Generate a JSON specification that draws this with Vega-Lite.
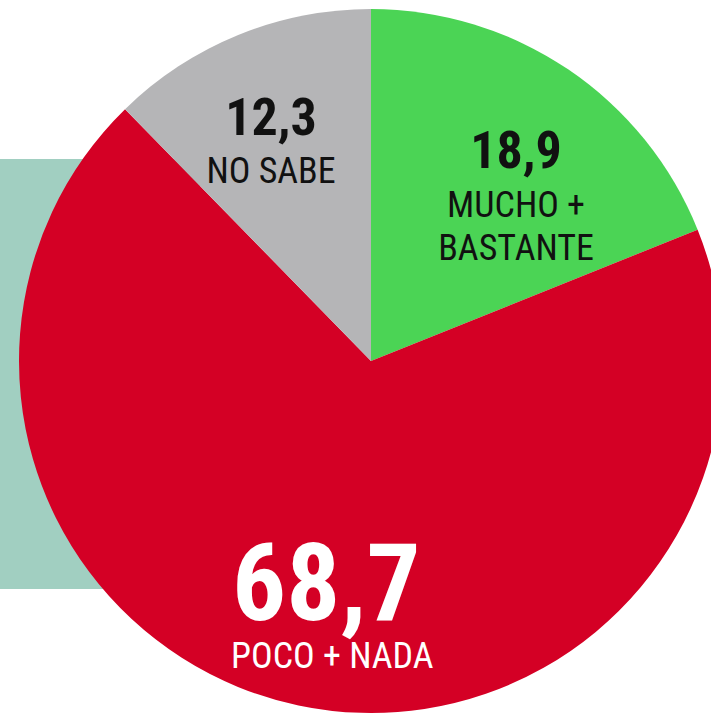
{
  "$schema": "https://vega.github.io/schema/vega-lite/v6.json",
  "width": 742,
  "height": 722,
  "padding": 0,
  "autosize": {"type": "none"},
  "background": "white",
  "config": {"view": {"stroke": null}, "text": {"font": "Roboto Condensed, Noto Sans Condensed, Open Sans Condensed, Liberation Sans Narrow, DejaVu Sans Condensed, sans-serif"}},
  "data": {
    "values": [
      {"cat": "MUCHO + BASTANTE", "label": "18,9", "valor": 18.9, "orden": 1},
      {"cat": "POCO + NADA", "label": "68,7", "valor": 68.7, "orden": 2},
      {"cat": "NO SABE", "label": "12,3", "valor": 12.3, "orden": 3}
    ]
  },
  "encoding": {
    "theta": {"field": "valor", "type": "quantitative", "stack": true},
    "order": {"field": "orden", "type": "quantitative"}
  },
  "layer": [
    {
      "mark": {"type": "rect", "color": "#a1cfc1"},
      "encoding": {
        "theta": null,
        "order": null,
        "x": {"value": 0},
        "x2": {"value": 200},
        "y": {"value": 159},
        "y2": {"value": 589}
      }
    },
    {
      "mark": {"type": "arc", "radius": 352, "strokeWidth": 0},
      "encoding": {
        "color": {
          "field": "cat",
          "type": "nominal",
          "scale": {
            "domain": ["MUCHO + BASTANTE", "POCO + NADA", "NO SABE"],
            "range": ["#4bd455", "#d40025", "#b5b5b7"]
          },
          "legend": null
        }
      }
    },
    {
      "mark": {"type": "text", "radius": 265, "dy": 19, "fontWeight": "bold", "fontSize": 52, "baseline": "alphabetic", "align": "center", "color": "#111111"},
      "encoding": {"text": {"condition": {"test": "datum.cat === 'NO SABE'", "field": "label"}, "value": ""}}
    },
    {
      "mark": {"type": "text", "radius": 265, "dy": 67, "fontSize": 36, "baseline": "alphabetic", "align": "center", "color": "#111111"},
      "encoding": {"text": {"condition": {"test": "datum.cat === 'NO SABE'", "field": "cat"}, "value": ""}}
    },
    {
      "mark": {"type": "text", "radius": 259, "dy": 22, "fontWeight": "bold", "fontSize": 52, "baseline": "alphabetic", "align": "center", "color": "#111111"},
      "encoding": {"text": {"condition": {"test": "datum.cat === 'MUCHO + BASTANTE'", "field": "label"}, "value": ""}}
    },
    {
      "mark": {"type": "text", "radius": 259, "dy": 71, "lineHeight": 43, "lineBreak": "|", "fontSize": 36, "baseline": "alphabetic", "align": "center", "color": "#111111"},
      "encoding": {"text": {"condition": {"test": "datum.cat === 'MUCHO + BASTANTE'", "value": "MUCHO +|BASTANTE"}, "value": ""}}
    },
    {
      "mark": {"type": "text", "radius": 217, "dy": 47, "fontWeight": "bold", "fontSize": 107, "baseline": "alphabetic", "align": "center", "color": "#ffffff"},
      "encoding": {"text": {"condition": {"test": "datum.cat === 'POCO + NADA'", "field": "label"}, "value": ""}}
    },
    {
      "mark": {"type": "text", "radius": 217, "dy": 95, "dx": 6, "fontSize": 36, "baseline": "alphabetic", "align": "center", "color": "#ffffff"},
      "encoding": {"text": {"condition": {"test": "datum.cat === 'POCO + NADA'", "field": "cat"}, "value": ""}}
    }
  ]
}
